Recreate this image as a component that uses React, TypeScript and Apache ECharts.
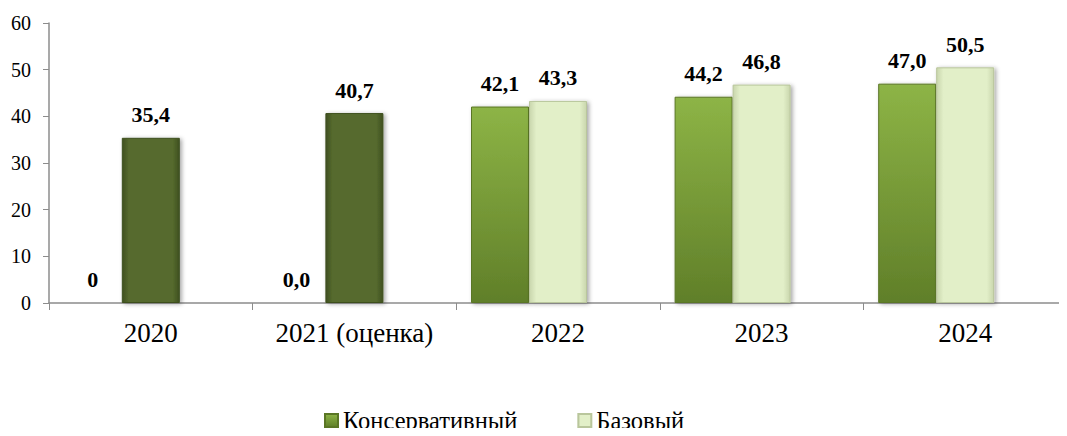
import React, { useEffect, useRef } from "react";
import * as echarts from "echarts";

const categories = ["2020", "2021 (оценка)", "2022", "2023", "2024"];
const conservative = [0, 0, 42.1, 44.2, 47.0];
const conservativeLabels = ["0", "0,0", "42,1", "44,2", "47,0"];
const base = [35.4, 40.7, 43.3, 46.8, 50.5];
const baseIsFact = [true, true, false, false, false];
const yTicks = { min: 0, max: 60, interval: 10 };

const FONT = "Liberation Serif";

const hGrad = (edge: string, mid: string) =>
  new echarts.graphic.LinearGradient(0, 0, 1, 0, [
    { offset: 0, color: edge },
    { offset: 0.12, color: mid },
    { offset: 0.88, color: mid },
    { offset: 1, color: edge },
  ]);

const vGrad = (top: string, bottom: string) =>
  new echarts.graphic.LinearGradient(0, 0, 0, 1, [
    { offset: 0, color: top },
    { offset: 1, color: bottom },
  ]);

export default function App() {
  const ref = useRef<HTMLDivElement>(null);
  useEffect(() => {
    if (!ref.current) return;
    const chart = echarts.init(ref.current, null, { renderer: "svg" });
    const fmt = (v: number) => v.toFixed(1).replace(".", ",");
    const shadow = {
      shadowColor: "rgba(0,0,0,0.35)",
      shadowBlur: 4,
      shadowOffsetX: 2,
      shadowOffsetY: 1,
    };
    const labelStyle = {
      show: true,
      position: "top" as const,
      distance: 12,
      color: "#000",
      fontFamily: FONT,
      fontWeight: "bold" as const,
      fontSize: 22,
    };
    chart.setOption({
      animation: false,
      grid: { left: 49, top: 23, width: 1030, height: 280, containLabel: false },
      legend: {
        data: ["Консервативный", "Базовый"],
        left: 319,
        top: 403,
        itemWidth: 13,
        itemHeight: 13,
        itemGap: 60,
        icon: "rect",
        textStyle: { fontFamily: FONT, fontSize: 24.5, color: "#000" },
      },
      xAxis: {
        type: "category",
        data: categories,
        axisLine: { lineStyle: { color: "#8c8c8c", width: 1.5 } },
        axisTick: { show: true, length: 7, lineStyle: { color: "#8c8c8c" } },
        axisLabel: {
          interval: 0,
          color: "#000",
          fontFamily: FONT,
          fontSize: 27,
          margin: 16,
        },
      },
      yAxis: {
        type: "value",
        min: yTicks.min,
        max: yTicks.max,
        interval: yTicks.interval,
        axisLine: { show: true, lineStyle: { color: "#8c8c8c", width: 1.5 } },
        axisTick: { show: true, length: 6, lineStyle: { color: "#8c8c8c" } },
        splitLine: { show: false },
        axisLabel: { color: "#000", fontFamily: FONT, fontSize: 20, margin: 18 },
      },
      series: [
        {
          name: "Консервативный",
          type: "bar",
          barWidth: 58,
          barGap: "0%",
          data: conservative,
          itemStyle: {
            color: vGrad("#8db446", "#607f29"),
            borderColor: "#5a7625",
            borderWidth: 1,
            ...shadow,
          },
          label: {
            ...labelStyle,
            formatter: (p: any) => conservativeLabels[p.dataIndex],
          },
        },
        {
          name: "Базовый",
          type: "bar",
          barWidth: 58,
          barGap: "0%",
          data: base.map((v, i) =>
            baseIsFact[i]
              ? {
                  value: v,
                  itemStyle: {
                    color: hGrad("#3f5020", "#566b2e"),
                    borderColor: "#3e4f1f",
                  },
                }
              : v
          ),
          itemStyle: {
            color: hGrad("#c9d6ad", "#e2efc8"),
            borderColor: "#b9c69c",
            borderWidth: 1,
            ...shadow,
          },
          label: { ...labelStyle, formatter: (p: any) => fmt(p.value) },
        },
        {
          name: "_slot",
          type: "bar",
          barWidth: 58,
          barGap: "0%",
          data: categories.map(() => null),
        },
      ],
    });
    return () => chart.dispose();
  }, []);
  return <div ref={ref} style={{ width: 1067, height: 436, margin: -8 }} />;
}
